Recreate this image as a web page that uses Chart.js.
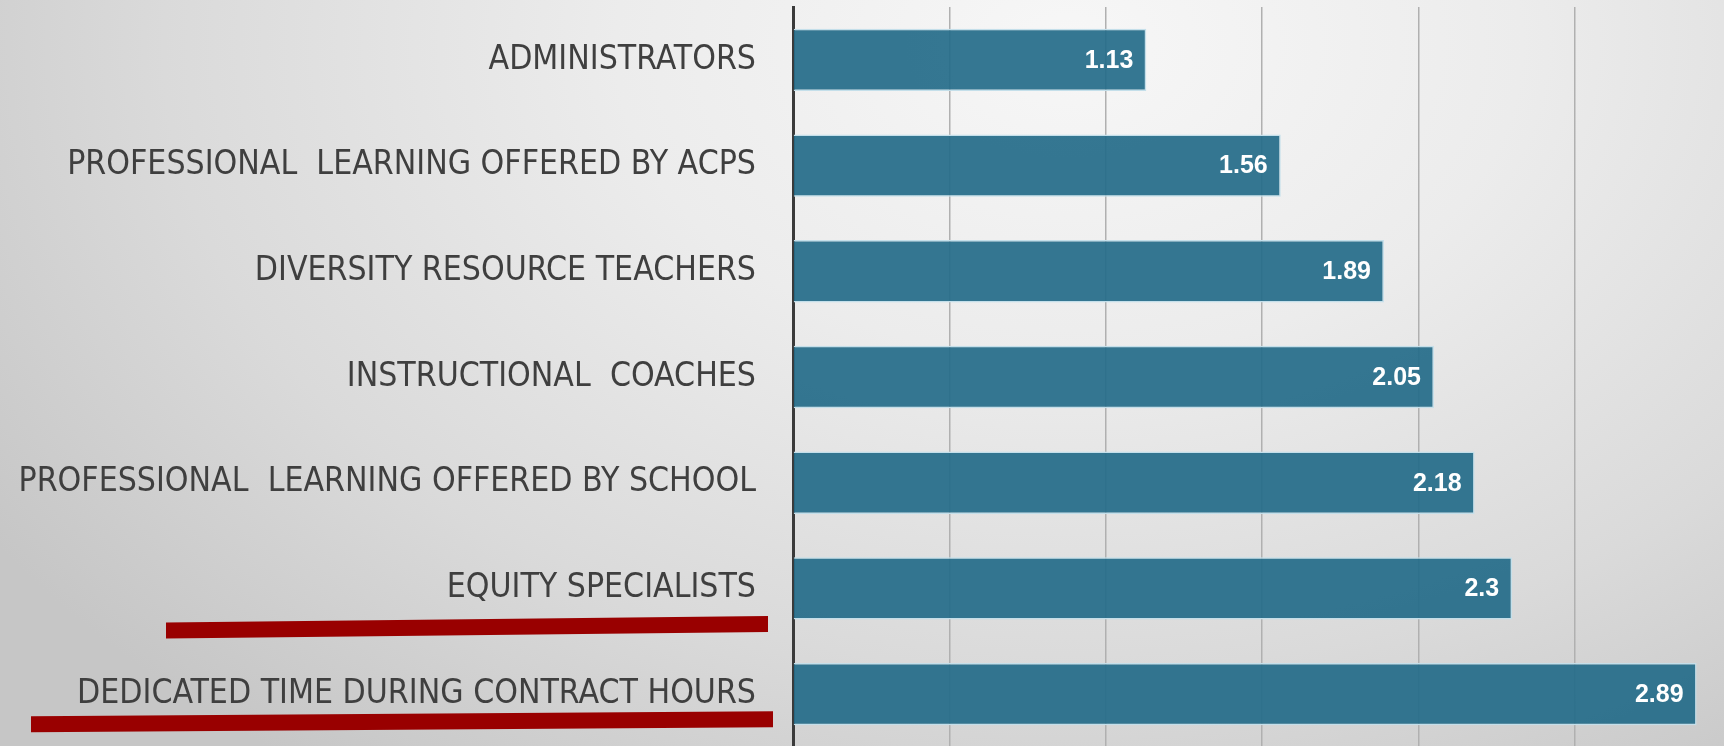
<!DOCTYPE html>
<html>
<head>
<meta charset="utf-8">
<script src="https://cdn.jsdelivr.net/npm/chart.js@4"></script>
<style>
    html, body { margin: 0; padding: 0; overflow: hidden; }
    body {
        width: 1724px;
        height: 746px;
        background: radial-gradient(ellipse 75% 120% at 62% 6%, #f7f7f7 0%, #ececec 35%, #dadada 70%, #c6c6c6 100%);
    }
    #wrap { position: absolute; left: 0; top: 0; width: 1732px; height: 748px; }
</style>
</head>
<body>
<div id="wrap"><canvas id="SupportChart"></canvas></div>
<script>
const categories = [
    "ADMINISTRATORS",
    "PROFESSIONAL  LEARNING OFFERED BY ACPS",
    "DIVERSITY RESOURCE TEACHERS",
    "INSTRUCTIONAL  COACHES",
    "PROFESSIONAL  LEARNING OFFERED BY SCHOOL",
    "EQUITY SPECIALISTS",
    "DEDICATED TIME DURING CONTRACT HOURS"
];
const ratings = [1.13, 1.56, 1.89, 2.05, 2.18, 2.3, 2.89];
const axisMin = 0;
const axisMax = 3;
const axisStep = 0.5;

// red marker strokes under the two highlighted labels
const underlinedRows = [5, 6];

document.addEventListener("DOMContentLoaded", function () {
    const valueLabels = {
        id: "valueLabels",
        afterDatasetsDraw(chart) {
            const ctx = chart.ctx;
            const meta = chart.getDatasetMeta(0);
            ctx.save();
            ctx.font = "bold 25px 'Liberation Sans', Arial, sans-serif";
            ctx.fillStyle = "#ffffff";
            ctx.textAlign = "right";
            ctx.textBaseline = "middle";
            meta.data.forEach((bar, i) => {
                ctx.fillText(String(ratings[i]), bar.x - 13, bar.y + 1);
            });
            ctx.restore();
        }
    };

    const markerLines = {
        id: "markerLines",
        afterDraw(chart) {
            const ctx = chart.ctx;
            const y = chart.scales.y;
            const shapes = {
                5: { x0: 166, x1: 768, dy0: 42, dy1: 35.5 },
                6: { x0: 31, x1: 773, dy0: 30, dy1: 25 }
            };
            ctx.save();
            ctx.fillStyle = "#990000";
            underlinedRows.forEach(idx => {
                const s = shapes[idx];
                const cy = y.getPixelForValue(idx);
                const h = 8;
                ctx.beginPath();
                ctx.moveTo(s.x0, cy + s.dy0 - h);
                ctx.lineTo(s.x1, cy + s.dy1 - h);
                ctx.lineTo(s.x1, cy + s.dy1 + h);
                ctx.lineTo(s.x0, cy + s.dy0 + h);
                ctx.closePath();
                ctx.fill();
            });
            ctx.restore();
        }
    };

    new Chart(document.getElementById("SupportChart"), {
        type: "bar",
        data: {
            labels: categories,
            datasets: [{
                data: ratings,
                backgroundColor: "rgba(36, 107, 137, 0.92)",
                borderColor: "#c4dfea",
                borderWidth: 1.5,
                barPercentage: 1,
                categoryPercentage: 0.59
            }]
        },
        options: {
            indexAxis: "y",
            responsive: true,
            maintainAspectRatio: false,
            animation: false,
            layout: { padding: { top: 7, bottom: 1, left: 0, right: 1 } },
            plugins: {
                legend: { display: false },
                tooltip: { enabled: false }
            },
            scales: {
                x: {
                    min: axisMin,
                    max: axisMax,
                    ticks: { display: false, stepSize: axisStep },
                    grid: { color: "#b0b0b0", lineWidth: 1.5, drawTicks: false },
                    border: { display: false },
                    afterFit(scale) { scale.height = 0; }
                },
                y: {
                    grid: { display: false, drawTicks: false },
                    border: { display: true, color: "#3a3a3a", width: 3 },
                    ticks: {
                        color: "#3f3f3f",
                        padding: 37,
                        font: { family: "'DejaVu Sans Condensed', 'Liberation Sans Narrow', sans-serif", size: 33.5 }
                    },
                    afterFit(scale) {
                        scale.width = 793;
                        scale.paddingTop = 0;
                        scale.paddingBottom = 0;
                    }
                }
            }
        },
        plugins: [valueLabels, markerLines]
    });
});
</script>
</body>
</html>
